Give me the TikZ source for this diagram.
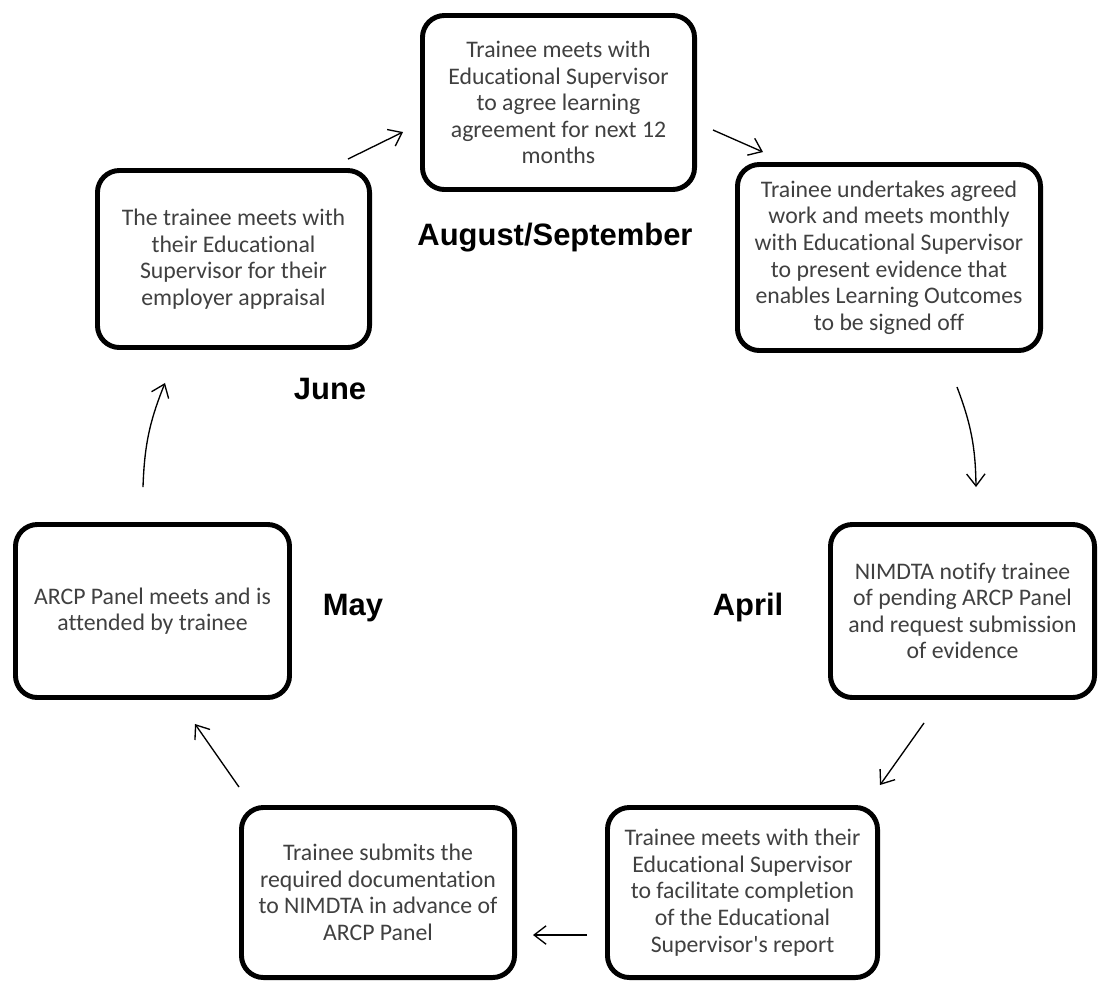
\documentclass[tikz,border=0pt]{standalone}
\usepackage{fontspec}
\setmainfont{Carlito}[Ligatures=NoCommon]
\newfontfamily\monthfont{Liberation Sans}
\usepackage{tikz}
\usetikzlibrary{calc,arrows.meta,shadows}
\definecolor{boxtext}{HTML}{404040}
\tikzset{
	stage/.style={draw=black, line width=3.5pt, rounded corners=0.55cm, fill=white, align=center, text=boxtext, inner sep=2pt, font=\fontsize{16.9}{18.9}\selectfont, drop shadow={shadow xshift=0.7pt, shadow yshift=-1.2pt, opacity=0.3}},
	month/.style={anchor=base, font=\monthfont\bfseries\fontsize{22}{26}\selectfont},
	flow/.style={line width=0.95pt, -{Straight Barb[length=3mm, width=4.6mm]}},
}

\begin{document}
\begin{tikzpicture}[x=0.025cm, y=-0.025cm]
		%%%%% START %%%%%
		
		\useasboundingbox (0, 0) rectangle (1098, 982);
		
		\node[stage, minimum width=6.8cm, minimum height=4.35cm] (top) at (558.5, 102.5) {Trainee meets with\\Educational Supervisor\\to agree learning\\agreement for next 12\\months};
		\node[stage, minimum width=7.575cm, minimum height=4.65cm] (ru) at (889, 257.5) {Trainee undertakes agreed\\work and meets monthly\\with Educational Supervisor\\to present evidence that\\enables Learning Outcomes\\to be signed off};
		\node[stage, minimum width=6.6cm, minimum height=4.325cm] (r) at (962.5, 611) {NIMDTA notify trainee\\of pending ARCP Panel\\and request submission\\of evidence};
		\node[stage, minimum width=6.75cm, minimum height=4.25cm] (br) at (742.5, 892.5) {Trainee meets with their\\Educational Supervisor\\to facilitate completion\\of the Educational\\Supervisor\textquotesingle s report};
		\node[stage, minimum width=6.825cm, minimum height=4.25cm] (bl) at (378, 892.5) {Trainee submits the\\required documentation\\to NIMDTA in advance of\\ARCP Panel};
		\node[stage, minimum width=6.85cm, minimum height=4.325cm] (l) at (152.5, 611) {ARCP Panel meets and is\\attended by trainee};
		\node[stage, minimum width=6.8cm, minimum height=4.425cm] (ul) at (233.5, 259) {The trainee meets with\\their Educational\\Supervisor for their\\employer appraisal};
		
		\node[month] (aug) at (555, 245) {August/September};
		\node[month] (jun) at (330, 399) {June};
		\node[month] (may) at (353, 615) {May};
		\node[month] (apr) at (748, 615) {April};
		
		\draw[flow] ($(ul.north east)+(-24, -9)$) -- ($(top.west)+(-17, 29.5)$);
		\draw[flow] ($(top.east)+(16, 27.5)$) -- ($(ru.north west)+(28, -10)$);
		\draw[flow] ($(ru.south)+(68, 34)$) to[bend left=10] ($(r.north)+(13.5, -35)$);
		\draw[flow] ($(r.south)+(-38.5, 23)$) -- ($(br.north east)+(0, -20)$);
		\draw[flow] ($(br.west)+(-18, 42.5)$) -- ($(bl.east)+(16, 42.5)$);
		\draw[flow] ($(bl.north west)+(0, -18)$) -- ($(l.south)+(42.5, 24)$);
		\draw[flow] ($(l.north)+(-9.5, -35)$) to[bend left=10] ($(ul.south)+(-68.5, 33)$);
		
		%%%%% END %%%%%
\end{tikzpicture}
\end{document}
